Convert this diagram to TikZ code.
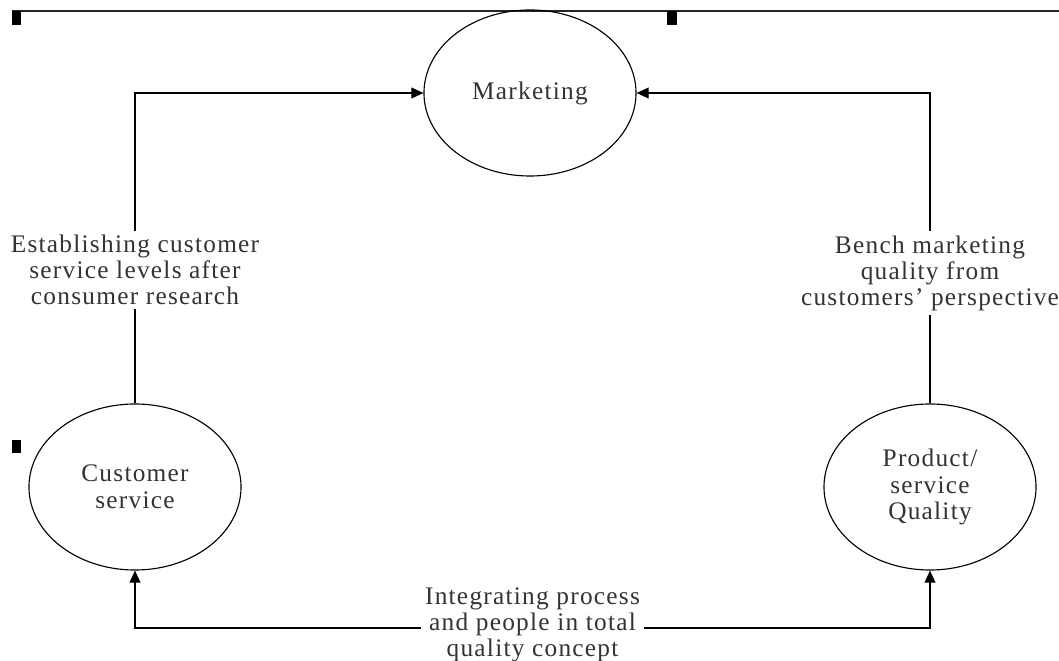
\documentclass[tikz,border=0pt]{standalone}
\usepackage{fontspec}
\setmainfont{Liberation Serif}
\newfontfamily\scanfont[LetterSpace=5]{Liberation Serif}
\usetikzlibrary{arrows.meta, shapes.geometric}

\begin{document}
\begin{tikzpicture}[x=0.025cm, y=-0.025cm,
  >={Triangle[length=3mm, width=2.7mm]},
  proc/.style={ellipse, draw, line width=0.8pt, minimum width=5.3cm, minimum height=4.15cm,
    inner sep=0pt, align=center, text=black!80, font=\scanfont\fontsize{18}{19}\selectfont},
  lbl/.style={fill=white, inner sep=3pt, align=center, text=black!80,
    font=\scanfont\fontsize{18}{18.5}\selectfont},
  flow/.style={line width=0.8pt}]

\useasboundingbox (0,0) rectangle (1059,661);

% page edge and handles
\draw[line width=2pt, black!85] (12,11) -- (1059,11);
\fill (12,11) rectangle (21,25);
\fill (667,11) rectangle (677,25);
\fill (12,440) rectangle (21,453);

% activities
\node[proc] (mkt) at (530,93) {Marketing};
\node[proc] (cust) at (135,487) {Customer\\service};
\node[proc] (qual) at (930,487) {Product/\\service\\Quality};

\coordinate (base) at (0,628);

% customer service -> marketing
\draw[flow, ->] (cust.north)
  -- node[lbl, pos=0.43] {Establishing customer\\service levels after\\consumer research}
  (cust.north |- mkt.west) -- (mkt.west);

% quality -> marketing
\draw[flow, ->] (qual.north)
  -- node[lbl, pos=0.42] {Bench marketing\\quality from\\customers’ perspective}
  (qual.north |- mkt.east) -- (mkt.east);

% customer service <-> quality
\draw[flow, <->] (cust.south) -- (cust.south |- base)
  -- node[lbl, yshift=2pt] {Integrating process\\and people in total\\quality concept}
  (qual.south |- base) -- (qual.south);

\end{tikzpicture}
\end{document}
